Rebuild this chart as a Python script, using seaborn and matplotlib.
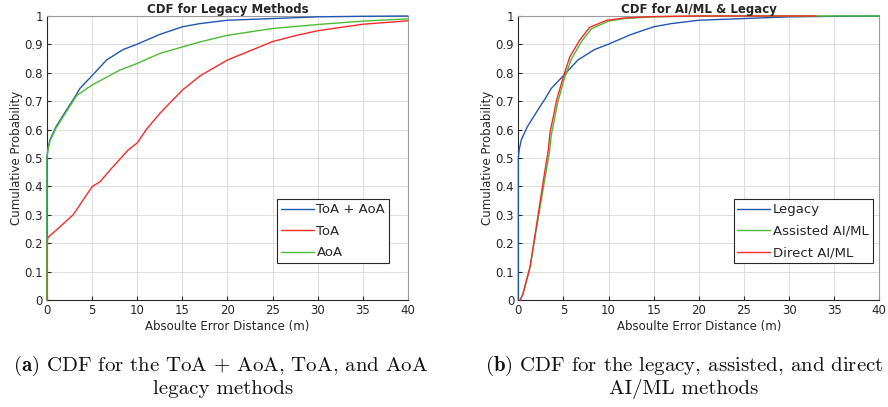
import numpy as np
import pandas as pd
import matplotlib
matplotlib.use('Agg')
import matplotlib.pyplot as plt
import seaborn as sns

# CDF points
toa_aoa_x = [0, 0, 0.1, 0.33, 1.0, 2.18, 3.0, 3.65, 5.0, 6.6, 8.45, 9.93, 12.5, 15, 16.9, 20, 25, 30, 35, 40]
toa_aoa_y = [0, 0.50, 0.53, 0.564, 0.61, 0.67, 0.71, 0.745, 0.79, 0.845, 0.882, 0.90, 0.935, 0.962, 0.973, 0.985, 0.991, 0.997, 0.999, 1.0]

aoa_x = [0, 0, 0.1, 0.33, 1.0, 2.18, 3.3, 5.0, 8.1, 10, 12.5, 15, 17, 20, 25, 30, 35, 40]
aoa_y = [0, 0.50, 0.53, 0.56, 0.605, 0.665, 0.72, 0.757, 0.81, 0.833, 0.868, 0.891, 0.909, 0.932, 0.956, 0.97, 0.982, 0.99]

toa_x = [0, 0, 0.1, 1.45, 2.9, 5.0, 5.9, 7.0, 9.0, 10, 11, 12.5, 15, 17, 20, 22.7, 25, 27.7, 30, 35, 40]
toa_y = [0, 0.20, 0.22, 0.258, 0.30, 0.399, 0.417, 0.458, 0.528, 0.553, 0.60, 0.657, 0.739, 0.79, 0.845, 0.88, 0.91, 0.932, 0.948, 0.971, 0.983]

legacy_x = toa_aoa_x
legacy_y = toa_aoa_y

direct_x = [0.2, 0.5, 1.3, 2.0, 2.77, 3.32, 3.5, 4.25, 5.0, 5.7, 6.8, 7.9, 9.8, 11.8, 15, 20, 33]
direct_y = [0, 0.02, 0.117, 0.26, 0.42, 0.528, 0.587, 0.705, 0.787, 0.856, 0.915, 0.96, 0.985, 0.993, 0.998, 1.0, 1.0]

assisted_x = [0.2, 0.5, 1.3, 2.0, 2.85, 3.45, 3.65, 4.4, 5.1, 5.9, 7.0, 8.1, 10, 12, 15, 20, 40]
assisted_y = [0, 0.02, 0.115, 0.25, 0.41, 0.52, 0.58, 0.70, 0.78, 0.85, 0.91, 0.955, 0.982, 0.992, 0.997, 1.0, 1.0]

blue = '#2257b0'
red = '#f52a2a'
green = '#4cbb35'

sns.set_style('whitegrid')
plt.rcParams['font.family'] = ['DejaVu Sans']
plt.rcParams['mathtext.fontset'] = 'cm'

fig = plt.figure(figsize=(8.88, 4.07), dpi=100)
ax1 = fig.add_axes([0.0529, 0.2629, 0.4065, 0.6978])
ax2 = fig.add_axes([0.5837, 0.2629, 0.4065, 0.6978])


def style_axes(ax, title):
    ax.set_xlim(0, 40)
    ax.set_ylim(0, 1)
    ax.set_xticks(np.arange(0, 41, 5))
    ax.set_yticks(np.arange(0, 1.01, 0.1))
    ax.set_yticklabels(['0'] + ['%.1f' % v for v in np.arange(0.1, 0.95, 0.1)] + ['1'])
    ax.grid(True, color='#dddddd', linewidth=0.7)
    ax.tick_params(direction='in', length=3, labelsize=8.5, colors='#262626',
                   left=True, bottom=True, pad=3)
    for s in ['left', 'bottom']:
        ax.spines[s].set_color('#262626')
        ax.spines[s].set_linewidth(0.8)
    for s in ['top', 'right']:
        ax.spines[s].set_color('#9a9a9a')
        ax.spines[s].set_linewidth(0.8)
    ax.set_title(title, fontsize=8.5, fontweight='bold', pad=2)
    ax.set_xlabel('Absoulte Error Distance (m)', fontsize=8.5, color='#262626', labelpad=2)
    ax.set_ylabel('Cumulative Probability', fontsize=8.5, color='#262626', labelpad=1)


def draw(ax, xs, ys, color, label):
    sns.lineplot(x=xs, y=ys, ax=ax, color=color, label=label, sort=False,
                 estimator=None, linewidth=1.0, zorder=3, clip_on=False)


draw(ax1, toa_aoa_x, toa_aoa_y, blue, 'ToA + AoA')
draw(ax1, toa_x, toa_y, red, 'ToA')
draw(ax1, aoa_x, aoa_y, green, 'AoA')
style_axes(ax1, 'CDF for Legacy Methods')

draw(ax2, legacy_x, legacy_y, blue, 'Legacy')
draw(ax2, assisted_x, assisted_y, green, 'Assisted AI/ML')
draw(ax2, direct_x, direct_y, red, 'Direct AI/ML')
style_axes(ax2, 'CDF for AI/ML & Legacy')

for ax, anchor in [(ax1, (0.948, 0.355)), (ax2, (0.982, 0.355))]:
    leg = ax.legend(loc='upper right', bbox_to_anchor=anchor, fontsize=9.5,
                    frameon=True, fancybox=False, handlelength=2.5,
                    handletextpad=0.2, borderpad=0.3, labelspacing=0.65,
                    borderaxespad=0)
    leg.get_frame().set_edgecolor('#262626')
    leg.get_frame().set_linewidth(0.8)
    leg.get_frame().set_alpha(1)

cap = dict(fontsize=15, family='cmr10', color='#111111', va='center')
fig.text(13 / 888, 1 - 366 / 407, r'$\mathbf{(a)}$ CDF for the ToA + AoA, ToA, and AoA', ha='left', **cap)
fig.text(223 / 888, 1 - 389 / 407, 'legacy methods', ha='center', **cap)
fig.text(485 / 888, 1 - 366 / 407, r'$\mathbf{(b)}$ CDF for the legacy, assisted, and direct', ha='left', **cap)
fig.text(684 / 888, 1 - 389 / 407, 'AI/ML methods', ha='center', **cap)

fig.savefig('out.png', dpi=100)
